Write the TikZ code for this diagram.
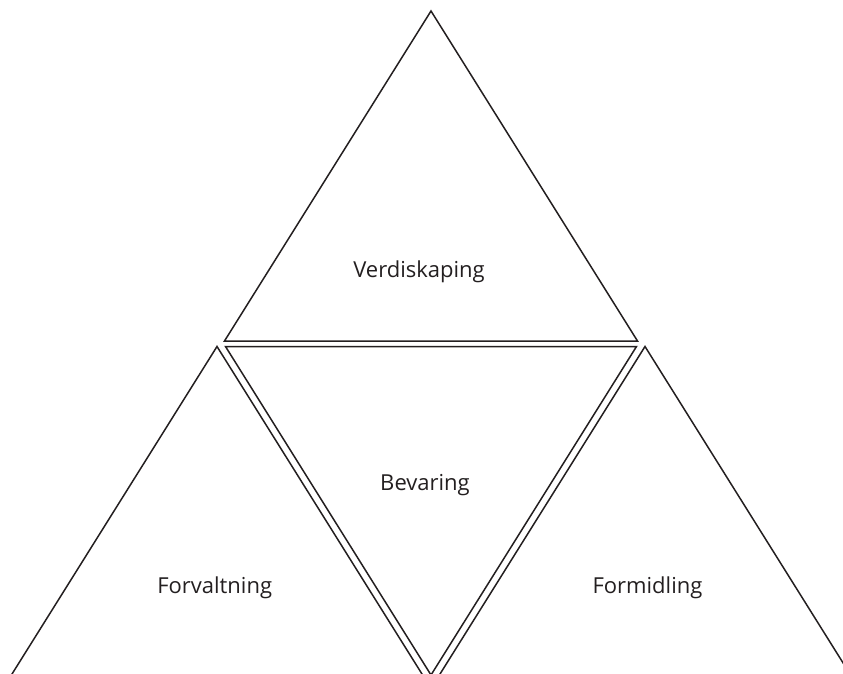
\documentclass[tikz,border=0pt]{standalone}
\usepackage{fontspec}
\setmainfont{Open Sans}
\definecolor{ink}{HTML}{231F20}
\begin{document}
\begin{tikzpicture}[x=1pt,y=-1pt,
  edge/.style={draw=ink, line width=1.5pt, line join=miter},
  lbl/.style={font=\fontsize{22}{26}\selectfont, text=ink, anchor=base, inner sep=0pt}]
\useasboundingbox (0,0) rectangle (843,674);
\clip (0,0) rectangle (843,674);
% top triangle
\coordinate (tA) at (431,11);
\coordinate (tL) at (224.5,341);
\coordinate (tR) at (637.5,341);
\draw[edge] (tA) -- (tL) -- (tR) -- cycle;
% middle inverted triangle
\coordinate (mL) at (225.5,346.5);
\coordinate (mR) at (636.5,346.5);
\coordinate (mB) at (431,675);
\draw[edge] (mL) -- (mR) -- (mB) -- cycle;
% left triangle
\coordinate (lA) at (217,346.5);
\coordinate (lL) at (4.5,686);
\coordinate (lR) at (429.5,686);
\draw[edge] (lL) -- (lA) -- (lR);
% right triangle
\coordinate (rA) at (645,346.5);
\coordinate (rL) at (432.5,686);
\coordinate (rR) at (857.5,686);
\draw[edge] (rL) -- (rA) -- (rR);
% labels
\node[lbl] (verd) at (419,277) {Verdiskaping};
\node[lbl] (bev) at (425,490) {Bevaring};
\node[lbl] (forv) at (214.7,593) {Forvaltning};
\node[lbl] (form) at (647.5,593) {Formidling};
\end{tikzpicture}
\end{document}
